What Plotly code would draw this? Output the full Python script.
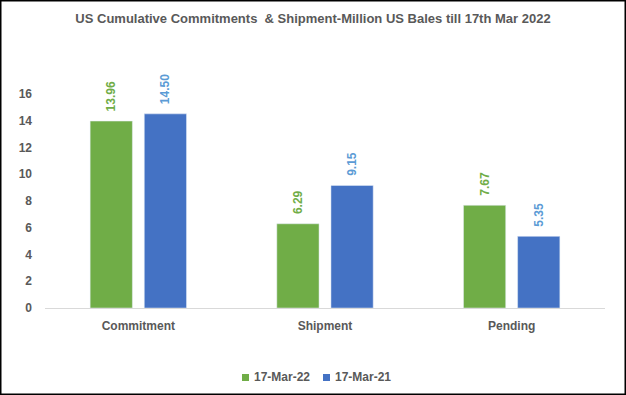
import plotly.graph_objects as go

categories = ["Commitment", "Shipment", "Pending"]
series_names = ["17-Mar-22", "17-Mar-21"]
values_2022 = [13.96, 6.29, 7.67]
values_2021 = [14.50, 9.15, 5.35]
y_ticks = [0, 2, 4, 6, 8, 10, 12, 14, 16]
series_colors = ["#70AD47", "#4472C4"]
label_colors = ["#70AD47", "#5B9BD5"]

FONT = "Liberation Sans, Arial, sans-serif"
GRAY = "#595959"
PAD = "\u00a0\u00a0"

fig = go.Figure()
for name, vals, col, lcol in zip(series_names, [values_2022, values_2021], series_colors, label_colors):
    fig.add_trace(go.Bar(
        x=categories, y=vals, name=name,
        marker=dict(color=col),
        text=[PAD + f"{v:.2f}" for v in vals], textposition="outside",
        textangle=-90, cliponaxis=False,
        textfont=dict(family=FONT, size=12, color=lcol, weight="bold"),
        showlegend=False,
    ))

# custom compact legend (Excel style)
W, H = 560, 241
shapes = []
annotations = []
legend_x = [242, 323]
for name, col, lx in zip(series_names, series_colors, legend_x):
    shapes.append(dict(
        type="rect", xref="paper", yref="paper",
        x0=(lx - 45) / W, x1=(lx + 7 - 45) / W,
        y0=(308 - 381) / H, y1=(308 - 374) / H,
        line=dict(width=0), fillcolor=col,
    ))
    annotations.append(dict(
        text=name, xref="paper", yref="paper",
        x=(lx + 10 - 45) / W, xanchor="left",
        y=(308 - 377.5) / H, yanchor="middle", showarrow=False,
        font=dict(family=FONT, size=12, color=GRAY, weight="bold"),
    ))

shapes.append(dict(
    type="rect", xref="paper", yref="paper",
    x0=(0.75 - 45) / W, x1=(625.25 - 45) / W,
    y0=(308 - 394.25) / H, y1=(308 - 0.75) / H,
    line=dict(color="black", width=1.5), fillcolor="rgba(0,0,0,0)", layer="above",
))

fig.update_layout(
    width=626, height=395,
    margin=dict(l=45, r=21, t=67, b=87, pad=0),
    paper_bgcolor="white", plot_bgcolor="white",
    barmode="group", bargap=0.42, bargroupgap=0.22,
    font=dict(family=FONT, color=GRAY),
    showlegend=False,
    title=dict(
        text="US Cumulative Commitments  & Shipment-Million US Bales till 17th Mar 2022",
        x=0.5, xref="container", xanchor="center", y=1 - 18 / 395, yanchor="middle",
        font=dict(family=FONT, size=13, color=GRAY, weight="bold"),
    ),
    xaxis=dict(
        showgrid=False, showline=True, linecolor="#D9D9D9", linewidth=1,
        ticks="", ticklabelstandoff=7, automargin=False,
        tickfont=dict(family=FONT, size=12, color=GRAY, weight="bold"),
    ),
    yaxis=dict(
        range=[0, 18], tickvals=y_ticks, showgrid=False, zeroline=False,
        showline=False, ticks="", ticklabelstandoff=12, automargin=False,
        tickfont=dict(family=FONT, size=12, color=GRAY, weight="bold"),
    ),
    shapes=shapes,
    annotations=annotations,
)

fig.write_html(
    "out.html",
    config={"displayModeBar": False, "staticPlot": True},
    post_script="document.body.style.margin='0';document.body.style.overflow='hidden';",
)
